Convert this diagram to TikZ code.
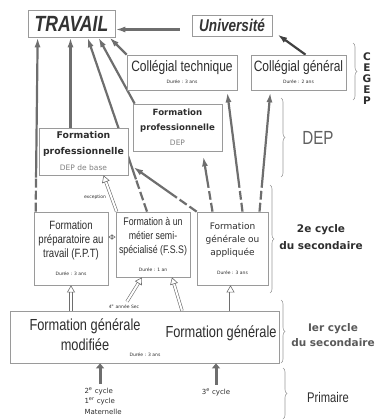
\documentclass[tikz,border=0pt]{standalone}
\usepackage{fontspec}
\setmainfont{Liberation Sans}
\newfontfamily\narrowsf[FakeStretch=0.8]{Liberation Sans}
\newfontfamily\verdsf{DejaVu Sans}
\usetikzlibrary{arrows.meta,calc,backgrounds,decorations.pathreplacing}

\definecolor{traitgris}{HTML}{6E6E6E}
\definecolor{cadregris}{HTML}{9A9A9A}
\definecolor{textegris}{HTML}{2E2E2E}

\newcommand\gros{\narrowsf\fontsize{15}{17}\selectfont}
\newcommand\petit{\verdsf\mdseries\fontsize{4.5}{11}\selectfont}
\newcommand\clair{\verdsf\mdseries\fontsize{7.5}{10}\selectfont\color{gray}}

\begin{document}
\begin{tikzpicture}[x=1pt, y=-1pt,
  cadre/.style={draw=cadregris, line width=0.7pt, fill=white, inner sep=0pt, align=center, text=textegris},
  flow/.style={draw=traitgris, line width=2.2pt, -{Latex[length=10pt,width=6pt]}},
  gaps/.style={draw=white, line width=3.5pt, dash pattern=on 3pt off 9pt, dash phase=3pt},
  hollow/.style={draw=traitgris, double=white, double distance=2pt, line width=0.6pt, -{Triangle[open,length=7pt,width=8pt]}},
  up/.style={draw=traitgris, line width=3pt, -{Triangle[length=5pt,width=8pt]}},
  accolade/.style={draw=cadregris, line width=0.6pt, decorate, decoration={brace, amplitude=4pt}},
  minuscule/.style={font=\verdsf\fontsize{4.5}{5}\selectfont, text=textegris},
  etiquette/.style={text=textegris, align=center}]
  \useasboundingbox (0,0) rectangle (381,420);

  % haut : travail, université
  \node[cadre, minimum width=87pt, minimum height=27pt, text=gray!40!black,
        font=\narrowsf\bfseries\itshape\fontsize{22}{24}\selectfont] (travail) at (71.5,23.5) {TRAVAIL};
  \node[cadre, minimum width=80pt, minimum height=21pt, text=gray!40!black,
        font=\narrowsf\bfseries\itshape\fontsize{17}{18}\selectfont] (univ) at (232,25.5) {Université};

  % CEGEP
  \node[cadre, minimum width=110pt, minimum height=35pt] (colt) at (182,72.5)
    {\gros Collégial technique\\\petit Durée : 3 ans};
  \node[cadre, minimum width=95pt, minimum height=35pt] (colg) at (298.5,72.5)
    {\gros Collégial général\\\petit Durée : 2 ans};

  % DEP
  \node[cadre, minimum width=89pt, minimum height=47pt, font=\verdsf\bfseries\fontsize{8.6}{15}\selectfont] (fpdep) at (177.5,127.5)
    {Formation\\professionnelle\\\clair DEP};
  \node[cadre, minimum width=89pt, minimum height=47pt, font=\verdsf\bfseries\fontsize{9.3}{16}\selectfont] (fpbase) at (83.5,151.5)
    {Formation\\professionnelle\\\clair DEP de base};

  % 2e cycle
  \node[cadre, minimum width=74pt, minimum height=73pt, font=\narrowsf\fontsize{12}{14}\selectfont] (fpt) at (71,248.5)
    {Formation\\préparatoire au\\travail (F.P.T)\\[4pt]\petit Durée : 3 ans};
  \node[cadre, minimum width=74pt, minimum height=65pt, font=\narrowsf\fontsize{11}{14}\selectfont] (fss) at (153,244.5)
    {Formation à un\\métier semi-\\spécialisé (F.S.S)\\[4pt]\petit Durée : 1 an};
  \node[cadre, minimum width=71pt, minimum height=73pt, font=\verdsf\fontsize{9}{13}\selectfont] (fga) at (232.5,248.5)
    {Formation\\générale ou\\appliquée\\[6pt]\petit Durée : 3 ans};

  % 1er cycle
  \node[cadre, minimum width=269pt, minimum height=52pt] (fgm) at (144.5,337) {};
  \node[etiquette, font=\narrowsf\fontsize{16}{20}\selectfont] (fgml) at (85,335) {Formation générale\\modifiée};
  \node[etiquette, font=\narrowsf\fontsize{16}{18}\selectfont] (fgmr) at (221,333) {Formation générale};
  \node[minuscule] (duree) at (145,355) {Durée : 3 ans};
  \node[minuscule] (sec4) at (124,307) {4\textsuperscript{e} année Sec};
  \node[minuscule] (except) at (95,197) {exception};

  % primaire
  \node[anchor=north west, align=left, text=textegris, font=\verdsf\fontsize{7}{10.5}\selectfont] (bas1) at (81,384)
    {2\textsuperscript{e} cycle\\1\textsuperscript{er} cycle\\Maternelle};
  \node[text=textegris, font=\verdsf\fontsize{7}{8}\selectfont] (bas3) at (216,392) {3\textsuperscript{e} cycle};

  % accolades et niveaux
  \draw[accolade] (353,43) -- (353,100);
  \draw[accolade] (281,98) -- (281,177);
  \draw[accolade] (270,185) -- (270,293);
  \draw[accolade] (281,300) -- (281,363);
  \draw[accolade] (283,368) -- (283,419);
  \node[etiquette, font=\verdsf\bfseries\fontsize{10.5}{11}\selectfont] (cegep) at (367,79) {C\\E\\G\\E\\P};
  \node[text=gray!75!black, font=\narrowsf\fontsize{19}{19}\selectfont] (labdep) at (318,138) {DEP};
  \node[etiquette, font=\verdsf\bfseries\fontsize{10.5}{17}\selectfont] (labsec2) at (321,237) {2e cycle\\du secondaire};
  \node[etiquette, text=gray!70!black, font=\verdsf\bfseries\fontsize{10.5}{15}\selectfont] (labsec1) at (333,335) {Ier cycle\\du secondaire};
  \node[etiquette, font=\narrowsf\fontsize{14}{14}\selectfont] (labprim) at (328,397) {Primaire};

  % flèches
  \begin{scope}[on background layer]
    \draw[flow, shorten <=12pt] ([yshift=-4pt]univ.west) -- ([yshift=-4pt]univ.west -| travail.east);
    \draw[flow, draw=black!75] ([xshift=7pt]colg.north) -- ([xshift=5pt,yshift=2pt]univ.south east);
    \draw[flow] (colt.north west) -- ([xshift=-6pt]travail.south east);
    \draw[flow] ([xshift=2pt]fpdep.north west) -- ([xshift=-17pt]travail.south east);
    \draw[flow] ([xshift=-13pt]fpbase.north) -- ([xshift=-13pt]fpbase.north |- travail.south);

    \draw[flow] ([xshift=2pt]fpt.north west) -- ([xshift=10pt]travail.south west);
    \draw[gaps] ([xshift=2pt]fpt.north west) -- ($([xshift=2pt]fpt.north west)!34pt!([xshift=10pt]travail.south west)$);
    \draw[flow] ([xshift=-6pt]fss.north) -- ([xshift=16pt]travail.south);
    \draw[gaps] ([xshift=-6pt]fss.north) -- ($([xshift=-6pt]fss.north)!34pt!([xshift=16pt]travail.south)$);

    \draw[flow, shorten >=6pt] (fga.north west) -- ([yshift=-12pt]fpbase.east);
    \draw[gaps] (fga.north west) -- ($(fga.north west)!30pt!([yshift=-12pt]fpbase.east)$);
    \draw[flow, shorten >=5pt] ([xshift=-20pt]fga.north) -- ([xshift=25pt]fpdep.south);
    \draw[gaps] ([xshift=-20pt]fga.north) -- ($([xshift=-20pt]fga.north)!30pt!([xshift=25pt]fpdep.south)$);
    \draw[flow, shorten >=2pt] ([xshift=10pt]fga.north) -- ([xshift=45pt]colt.south);
    \draw[gaps] ([xshift=10pt]fga.north) -- ($([xshift=10pt]fga.north)!30pt!([xshift=45pt]colt.south)$);
    \draw[flow, shorten >=2pt] ([xshift=27pt]fga.north) -- ([xshift=-28pt]colg.south);
    \draw[gaps] ([xshift=27pt]fga.north) -- ($([xshift=27pt]fga.north)!30pt!([xshift=-28pt]colg.south)$);
  \end{scope}

  \draw[hollow] ([xshift=1pt]fss.north west) -- ([xshift=20pt]fpbase.south);
  \draw[hollow, {Triangle[open,length=4pt,width=5pt]}-{Triangle[open,length=4pt,width=5pt]}]
    ([yshift=11.5pt]fpt.east) -- ([yshift=11.5pt]fpt.east -| fss.west);
  \draw[hollow] (fpt.south |- fgm.north) -- (fpt.south);
  \draw[hollow] ([xshift=3pt]sec4.north) -- ([xshift=-11pt]fss.south);
  \draw[hollow] ([xshift=37.5pt]fgm.north) -- ([xshift=19pt]fss.south);
  \draw[hollow] ([xshift=-2pt]fga.south |- fgm.north) -- ([xshift=-2pt]fga.south);

  \draw[up] ([xshift=-3pt]bas1.north) -- ([xshift=-3pt]bas1.north |- fgm.south);
  \draw[up] (bas3.north) -- (bas3.north |- fgm.south);
\end{tikzpicture}
\end{document}
